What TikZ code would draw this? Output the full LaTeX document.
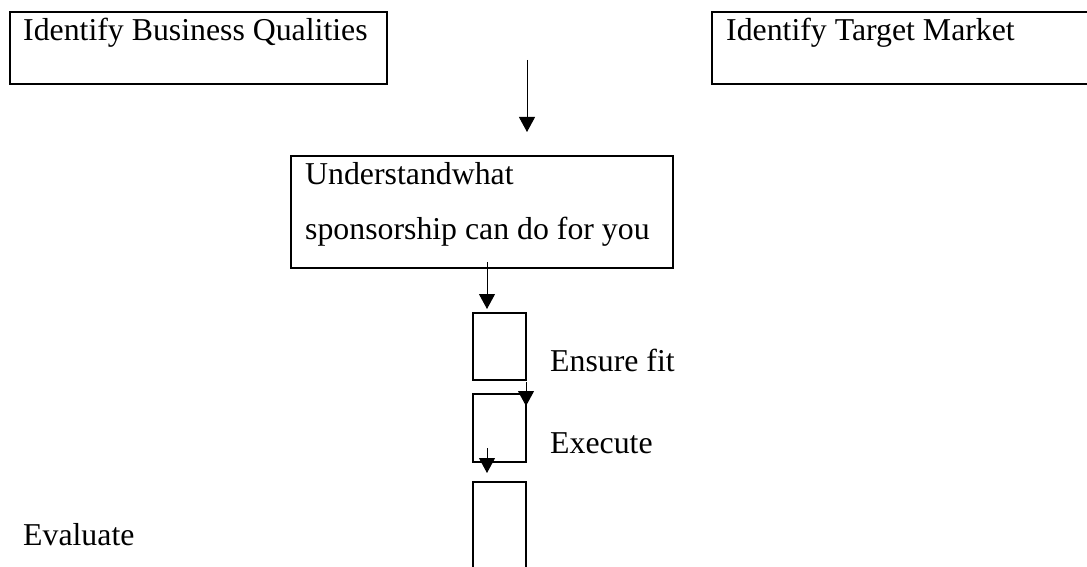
\documentclass[tikz,border=0pt]{standalone}
\usepackage{fontspec}
\setmainfont{Liberation Serif}
\usetikzlibrary{arrows.meta}
\begin{document}
\begin{tikzpicture}[x=1pt,y=-1pt,
  frame/.style={draw, line width=2pt, rectangle, inner sep=0pt, anchor=north west},
  lbl/.style={anchor=base west, inner sep=0pt, font=\fontsize{31.8}{38}\selectfont},
  arr/.style={line width=1pt, -{Triangle[width=16pt,length=15pt]}}]
\useasboundingbox (0,0) rectangle (1087,567);
\clip (0,0) rectangle (1087,567);
% boxes
\node[frame, minimum width=377pt, minimum height=72pt] (b1) at (9,11) {};
\node[frame, minimum width=400pt, minimum height=72pt] (b2) at (711,11) {};
\node[frame, minimum width=382pt, minimum height=112pt] (b3) at (290,155) {};
\node[frame, minimum width=53pt, minimum height=67pt] (sa) at (472,312) {};
\node[frame, minimum width=53pt, minimum height=68pt] (sb) at (472,393) {};
\node[frame, minimum width=53pt, minimum height=110pt] (sc) at (472,481) {};
% texts
\node[lbl] (t1) at (23,41) {Identify Business Qualities};
\node[lbl] (t2) at (726,41) {Identify Target Market};
\node[lbl] (t3) at (305,184) {Understandwhat};
\node[lbl] (t4) at (305,239) {sponsorship can do for you};
\node[lbl] (t5) at (550,371) {Ensure fit};
\node[lbl] (t6) at (550,453) {Execute};
\node[lbl] (t7) at (23,545) {Evaluate};
% connectors
\coordinate (a1s) at (527,60);
\coordinate (a1e) at (527,132);
\coordinate (a2s) at (487,262);
\coordinate (a2e) at (487,309);
\coordinate (a3s) at (526,382);
\coordinate (a3e) at (526,406);
\coordinate (a4s) at (487,448);
\coordinate (a4e) at (487,473);
\draw[arr] (a1s) -- (a1e);
\draw[arr] (a2s) -- (a2e);
\draw[arr] (a3s) -- (a3e);
\draw[arr] (a4s) -- (a4e);
\end{tikzpicture}
\end{document}
